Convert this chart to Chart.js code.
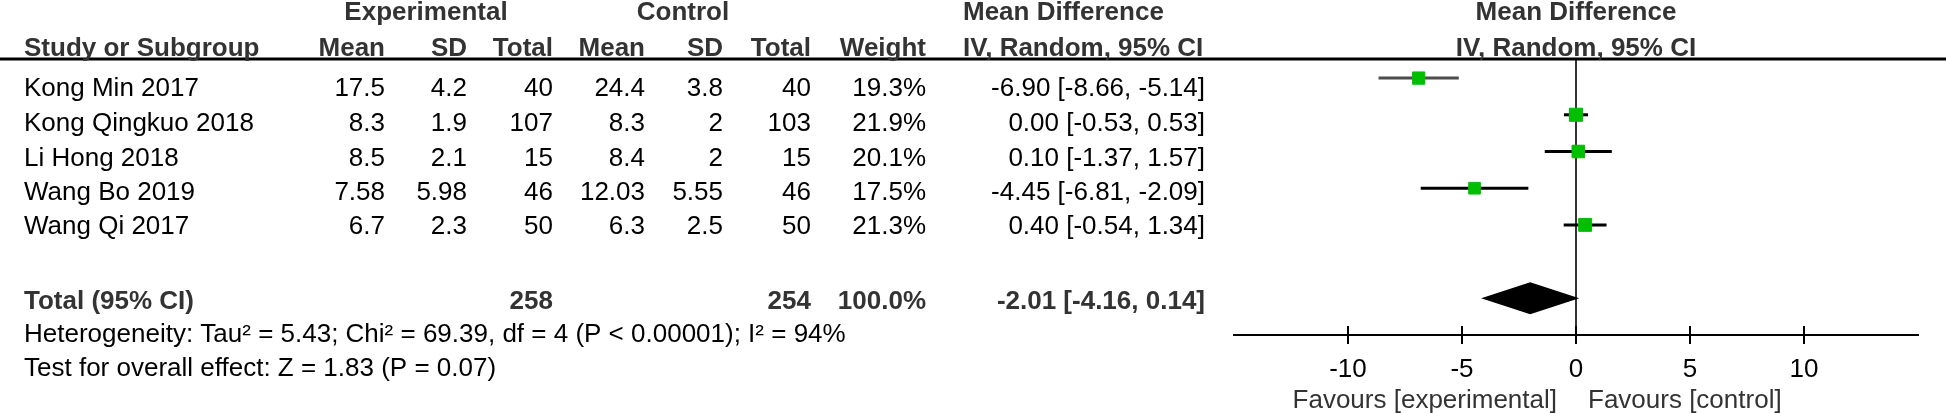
<!DOCTYPE html>
<html>
<head>
<meta charset="utf-8">
<script src="https://cdn.jsdelivr.net/npm/chart.js@4.4.1/dist/chart.umd.min.js"></script>
<style>
  html, body { margin: 0; padding: 0; background: #fff; }
  #wrap { width: 1946px; height: 413px; position: relative; }
</style>
</head>
<body>
<div id="wrap"><canvas id="forest"></canvas></div>
<script>
// DATA

const studies = ["Kong Min 2017", "Kong Qingkuo 2018", "Li Hong 2018", "Wang Bo 2019", "Wang Qi 2017"];
const expMean = [17.5, 8.3, 8.5, 7.58, 6.7];
const expSD = [4.2, 1.9, 2.1, 5.98, 2.3];
const expTotal = [40, 107, 15, 46, 50];
const ctrlMean = [24.4, 8.3, 8.4, 12.03, 6.3];
const ctrlSD = [3.8, 2, 2, 5.55, 2.5];
const ctrlTotal = [40, 103, 15, 46, 50];
const weights = [19.3, 21.9, 20.1, 17.5, 21.3];
const meanDiff = [-6.90, 0.00, 0.10, -4.45, 0.40];
const ciLow = [-8.66, -0.53, -1.37, -6.81, -0.54];
const ciHigh = [-5.14, 0.53, 1.57, -2.09, 1.34];

// pooled estimate [est, low, high]
const pooled = [-2.01, -4.16, 0.14];
const pooledTotals = [258, 254];
const pooledWeight = 100.0;
const xTicks = [-10, -5, 0, 5, 10];

const heterogeneity = "Heterogeneity: Tau\u00b2 = 5.43; Chi\u00b2 = 69.39, df = 4 (P < 0.00001); I\u00b2 = 94%";
const overallTest = "Test for overall effect: Z = 1.83 (P = 0.07)";

// LAYOUT

const FONT = "'Liberation Sans', Arial, sans-serif";
const FS = 26;
const TOTAL_ROW = 6;
const Y_MIN = -0.52;
const Y_MAX = 7;
const GREEN = "#00bf00";

const col = { study: 24, eMean: 385, eSD: 467, eTot: 553, cMean: 645, cSD: 723, cTot: 811, weight: 926, ci: 1205, ciHead: 963 };
const rowY = [96, 131, 166, 200, 234];

function txt(ctx, s, x, y, align, bold, color) {
  ctx.font = (bold ? "bold " : "") + FS + "px " + FONT;
  ctx.textAlign = align;
  ctx.textBaseline = "alphabetic";
  ctx.fillStyle = color;
  ctx.fillText(s, x, y);
}

function ciText(m, lo, hi) {
  return m.toFixed(2) + " [" + lo.toFixed(2) + ", " + hi.toFixed(2) + "]";
}

// TABLE + DECORATION PLUGIN

const forestPlugin = {
  id: "forestTable",
  afterDatasetsDraw(chart) {
    const ctx = chart.ctx;
    const x = chart.scales.x;
    const y = chart.scales.y;
    // pooled diamond
    const yc = y.getPixelForValue(TOTAL_ROW);
    const h = 16;
    ctx.save();
    ctx.fillStyle = "#000";
    ctx.beginPath();
    ctx.moveTo(x.getPixelForValue(pooled[1]), yc);
    ctx.lineTo(x.getPixelForValue(pooled[0]), yc - h);
    ctx.lineTo(x.getPixelForValue(pooled[2]), yc);
    ctx.lineTo(x.getPixelForValue(pooled[0]), yc + h);
    ctx.closePath();
    ctx.fill();
    ctx.restore();
  },
  afterDraw(chart) {
    const ctx = chart.ctx;
    const area = chart.chartArea;
    const x = chart.scales.x;
    ctx.save();

    // header rule
    ctx.strokeStyle = "#000";
    ctx.lineWidth = 3;
    ctx.beginPath();
    ctx.moveTo(0, area.top);
    ctx.lineTo(chart.width, area.top);
    ctx.stroke();

    // upper half of the tick marks
    ctx.lineWidth = 2;
    xTicks.forEach(v => {
      const px = x.getPixelForValue(v);
      ctx.beginPath();
      ctx.moveTo(px, area.bottom - 9);
      ctx.lineTo(px, area.bottom);
      ctx.stroke();
    });

    const hc = "#333";
    const zero = x.getPixelForValue(0);

    // header rows
    txt(ctx, "Experimental", 426, 20, "center", true, hc);
    txt(ctx, "Control", 683, 20, "center", true, hc);
    txt(ctx, "Mean Difference", col.ciHead, 20, "left", true, hc);
    txt(ctx, "Mean Difference", zero, 20, "center", true, hc);

    txt(ctx, "Study or Subgroup", col.study, 56, "left", true, hc);
    txt(ctx, "Mean", col.eMean, 56, "right", true, hc);
    txt(ctx, "SD", col.eSD, 56, "right", true, hc);
    txt(ctx, "Total", col.eTot, 56, "right", true, hc);
    txt(ctx, "Mean", col.cMean, 56, "right", true, hc);
    txt(ctx, "SD", col.cSD, 56, "right", true, hc);
    txt(ctx, "Total", col.cTot, 56, "right", true, hc);
    txt(ctx, "Weight", col.weight, 56, "right", true, hc);
    txt(ctx, "IV, Random, 95% CI", col.ciHead, 56, "left", true, hc);
    txt(ctx, "IV, Random, 95% CI", zero, 56, "center", true, hc);

    // study rows
    studies.forEach((s, i) => {
      const yy = rowY[i];
      txt(ctx, s, col.study, yy, "left", false, "#000");
      txt(ctx, String(expMean[i]), col.eMean, yy, "right", false, "#000");
      txt(ctx, String(expSD[i]), col.eSD, yy, "right", false, "#000");
      txt(ctx, String(expTotal[i]), col.eTot, yy, "right", false, "#000");
      txt(ctx, String(ctrlMean[i]), col.cMean, yy, "right", false, "#000");
      txt(ctx, String(ctrlSD[i]), col.cSD, yy, "right", false, "#000");
      txt(ctx, String(ctrlTotal[i]), col.cTot, yy, "right", false, "#000");
      txt(ctx, weights[i].toFixed(1) + "%", col.weight, yy, "right", false, "#000");
      txt(ctx, ciText(meanDiff[i], ciLow[i], ciHigh[i]), col.ci, yy, "right", false, "#000");
    });

    // total row
    txt(ctx, "Total (95% CI)", col.study, 309, "left", true, hc);
    txt(ctx, String(pooledTotals[0]), col.eTot, 309, "right", true, hc);
    txt(ctx, String(pooledTotals[1]), col.cTot, 309, "right", true, hc);
    txt(ctx, pooledWeight.toFixed(1) + "%", col.weight, 309, "right", true, hc);
    txt(ctx, ciText(pooled[0], pooled[1], pooled[2]), col.ci, 309, "right", true, hc);

    txt(ctx, heterogeneity, col.study, 342, "left", false, "#000");
    txt(ctx, overallTest, col.study, 376, "left", false, "#000");

    // favours labels
    txt(ctx, "Favours [experimental]", zero - 19, 408, "right", false, hc);
    txt(ctx, "Favours [control]", zero + 12, 408, "left", false, hc);

    ctx.restore();
  }
};

// CHART

const ctx = document.getElementById("forest").getContext("2d");

const whiskers = studies.map((s, i) => ({
  data: [{ x: ciLow[i], y: i }, { x: ciHigh[i], y: i }],
  showLine: true,
  borderColor: i === 0 ? "#4d4d4d" : "#000",
  borderWidth: 3,
  pointRadius: 0,
  order: 1
}));

new Chart(ctx, {
  type: "scatter",
  data: {
    datasets: [
      {
        data: meanDiff.map((m, i) => ({ x: m, y: i })),
        pointStyle: "rect",
        pointRadius: weights.map(w => 12.5 * Math.sqrt(w / 20) / Math.SQRT2),
        backgroundColor: GREEN,
        borderColor: GREEN,
        borderWidth: 1,
        order: 0
      },
      ...whiskers,
      {
        data: [{ x: 0, y: Y_MIN }, { x: 0, y: Y_MAX }],
        showLine: true,
        borderColor: "#333",
        borderWidth: 2,
        pointRadius: 0,
        order: 2
      }
    ]
  },
  options: {
    responsive: true,
    maintainAspectRatio: false,
    devicePixelRatio: 1,
    animation: false,
    layout: { padding: { left: 1234, right: 28, top: 59, bottom: 0 } },
    plugins: { legend: { display: false }, tooltip: { enabled: false } },
    scales: {
      x: {
        type: "linear",
        position: "bottom",
        min: -15,
        max: 15,
        afterBuildTicks: scale => { scale.ticks = xTicks.map(v => ({ value: v })); },
        afterFit: scale => { scale.height = 78; },
        border: { display: true, color: "#000", width: 2 },
        grid: { drawOnChartArea: false, drawTicks: true, tickLength: 9, color: "#000", lineWidth: 2 },
        ticks: { color: "#000", padding: 10, font: { family: FONT, size: FS }, maxRotation: 0 }
      },
      y: {
        display: false,
        reverse: true,
        min: Y_MIN,
        max: Y_MAX
      }
    }
  },
  plugins: [forestPlugin]
});
</script>
</body>
</html>
